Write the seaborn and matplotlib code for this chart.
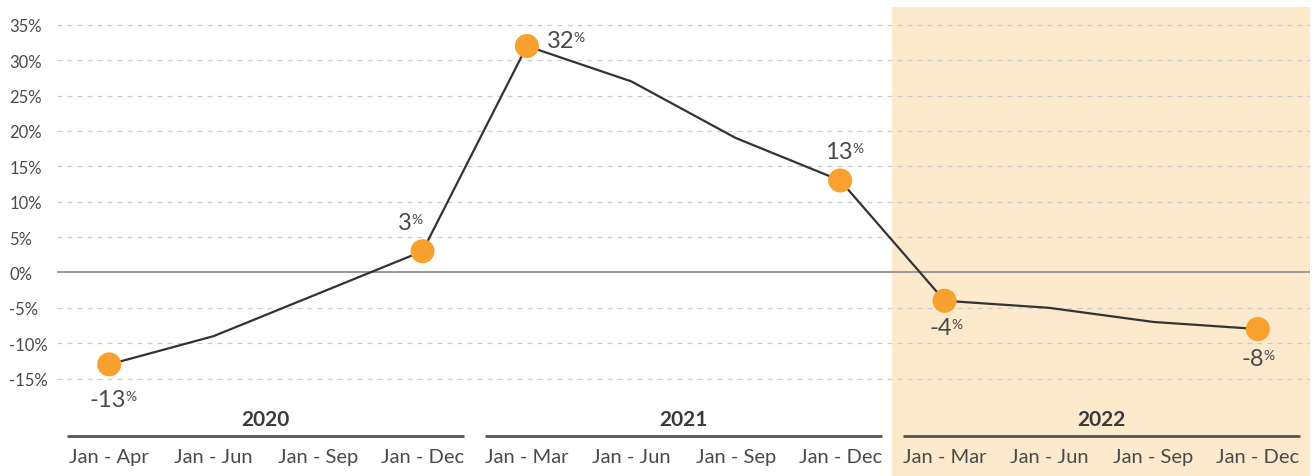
import numpy as np
import pandas as pd
import seaborn as sns
import matplotlib.pyplot as plt
import matplotlib.transforms as mtransforms
from matplotlib.patches import Rectangle

# =========================
# data

periods = ['Jan - Apr', 'Jan - Jun', 'Jan - Sep', 'Jan - Dec',
           'Jan - Mar', 'Jan - Jun', 'Jan - Sep', 'Jan - Dec',
           'Jan - Mar', 'Jan - Jun', 'Jan - Sep', 'Jan - Dec']
years = ['2020', '2021', '2022']
change = [-13, -9, -3, 3, 32, 27, 19, 13, -4, -5, -7, -8]

# which points get a dot + label, and where the label sits (points offset)
labelled = [0, 3, 4, 7, 8, 11]
label_offsets = {0: (-1, -25), 3: (-13, 21), 4: (24, 4), 7: (-1, 21), 8: (-3, -19), 11: (-4, -21)}

yticks = [-15, -10, -5, 0, 5, 10, 15, 20, 25, 30, 35]

# =========================
# style

sns.set_theme(style="white")
plt.rcParams['font.family'] = ['Lato', 'DejaVu Sans']

orange = '#f9a12e'
textgrey = '#4a4a4a'
shade = '#fde9cc'

df = pd.DataFrame({'idx': np.arange(len(change)), 'period': periods, 'change': change})
df['year'] = [years[i // 4] for i in df['idx']]

fig = plt.figure(figsize=(13.14, 4.77), dpi=100)
ax = fig.add_axes([0.0434, 0.182, 0.9536, 0.801])

# highlighted last year, runs down through the labels
blend = mtransforms.blended_transform_factory(ax.transData, fig.transFigure)
ax.add_patch(Rectangle((7.5, 0), 4, 0.983, transform=blend, facecolor=shade,
                       edgecolor='none', clip_on=False, zorder=0))

# gridlines
for yv in yticks:
    if yv == 0:
        ax.axhline(0, color='#999999', lw=1.4, zorder=1)
    else:
        ax.axhline(yv, color='#cccccc', lw=0.9, ls=(0, (4, 4)), zorder=1)

# line + dots
sns.lineplot(data=df, x='idx', y='change', color='#333333', lw=1.6, ax=ax, zorder=2)
sns.scatterplot(data=df.loc[labelled], x='idx', y='change', color=orange, s=300,
                edgecolor='none', ax=ax, zorder=3)

# value labels with small superscript %
for i in labelled:
    dx, dy = label_offsets[i]
    t = ax.annotate(str(change[i]), xy=(i, change[i]), xytext=(dx, dy),
                    textcoords='offset points', ha='center', va='center',
                    fontsize=17, color=textgrey, zorder=4)
    ax.annotate('%', xy=(0.98, 0.95), xycoords=t, ha='left', va='top',
                fontsize=10, color=textgrey, zorder=4)

ax.set_xlim(-0.5, 11.5)
ax.set_ylim(-16.5, 37.5)
ax.set_xlabel('')
ax.set_ylabel('')

ax.set_yticks(yticks)
ax.set_yticklabels([str(v) + '%' for v in yticks])
ax.tick_params(axis='y', length=0, pad=34.5, labelsize=12, labelcolor=textgrey)
for lab in ax.get_yticklabels():
    lab.set_horizontalalignment('left')

ax.set_xticks(df['idx'])
ax.set_xticklabels(periods)
ax.tick_params(axis='x', length=0, pad=42.5, labelsize=14.5, labelcolor=textgrey)

# year group labels with a rule underneath
for g, yr in enumerate(years):
    ax.plot([g * 4 - 0.4, g * 4 + 3.4], [0.084, 0.084], transform=blend,
            color='#555555', lw=2, clip_on=False, solid_capstyle='butt')
    ax.text(g * 4 + 1.5, 0.12, yr, transform=blend, ha='center', va='center',
            fontsize=15, fontweight='bold', color='#3a3a3a')

sns.despine(ax=ax, left=True, bottom=True)

plt.savefig('out.png', dpi=100)
plt.close()
